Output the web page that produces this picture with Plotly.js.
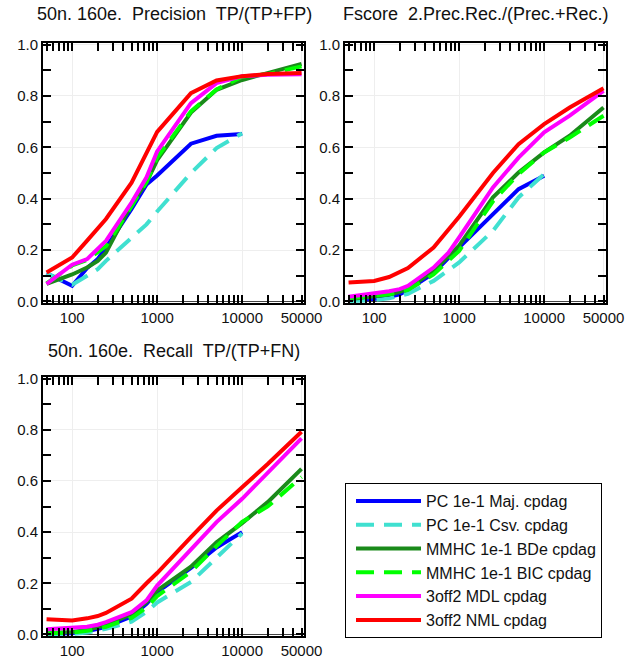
<!DOCTYPE html>
<html>
<head>
<meta charset="utf-8">
<script src="https://cdn.plot.ly/plotly-3.0.1.min.js"></script>
<style>html,body{margin:0;padding:0;background:#fff;}#chart{width:625px;height:660px;}</style>
</head>
<body>
<div id="chart"></div>
<script>
// Sample sizes
const sampleSizes = [50, 100, 150, 200, 250, 500, 750, 1000, 2500, 5000, 10000, 20000, 50000];
const pcSampleSizes = [50, 100, 150, 200, 250, 500, 750, 1000, 2500, 5000, 10000];

// Series names / colours
const seriesNames = ["PC 1e-1 Maj. cpdag", "PC 1e-1 Csv. cpdag", "MMHC 1e-1 BDe cpdag",
                     "MMHC 1e-1 BIC cpdag", "3off2 MDL cpdag", "3off2 NML cpdag"];
const seriesColors = ["#0000ff", "#40e0d0", "#1a8a1a", "#00ff00", "#ff00ff", "#ff0000"];
const seriesDash = ["solid", "18px,10px", "solid", "18px,10px", "solid", "solid"];

// Panel titles
const panelTitles = ["50n. 160e.  Precision  TP/(TP+FP)",
                     "Fscore  2.Prec.Rec./(Prec.+Rec.)",
                     "50n. 160e.  Recall  TP/(TP+FN)"];

// Tick labels
const xTickVals = [100, 1000, 10000, 50000];
const xTickText = ["100", "1000", "10000", "50000"];

// Precision
const precPCMaj   = [0.11, 0.061, 0.13, 0.165, 0.21, 0.36, 0.455, 0.49, 0.614, 0.645, 0.652];
const precPCCsv   = [0.11, 0.065, 0.10, 0.126, 0.158, 0.245, 0.30, 0.35, 0.50, 0.597, 0.655];
const precMMHCBDe = [0.068, 0.105, 0.132, 0.158, 0.19, 0.379, 0.463, 0.55, 0.735, 0.824, 0.862, 0.889, 0.925];
const precMMHCBIC = [0.07, 0.14, 0.162, 0.19, 0.215, 0.37, 0.465, 0.56, 0.74, 0.825, 0.875, 0.885, 0.915];
const precMDL     = [0.068, 0.143, 0.165, 0.205, 0.236, 0.385, 0.483, 0.584, 0.772, 0.85, 0.877, 0.882, 0.884];
const precNML     = [0.113, 0.171, 0.237, 0.284, 0.321, 0.462, 0.58, 0.66, 0.811, 0.86, 0.877, 0.885, 0.889];

// F-score
const fPCMaj   = [0.005, 0.01, 0.018, 0.028, 0.045, 0.11, 0.17, 0.21, 0.34, 0.437, 0.489];
const fPCCsv   = [0.002, 0.005, 0.012, 0.022, 0.03, 0.08, 0.12, 0.152, 0.275, 0.405, 0.496];
const fMMHCBDe = [0.009, 0.018, 0.027, 0.037, 0.05, 0.119, 0.178, 0.217, 0.405, 0.502, 0.58, 0.645, 0.755];
const fMMHCBIC = [0.012, 0.02, 0.028, 0.035, 0.045, 0.105, 0.16, 0.197, 0.39, 0.496, 0.58, 0.638, 0.723];
const fMDL     = [0.018, 0.031, 0.04, 0.048, 0.061, 0.132, 0.19, 0.249, 0.444, 0.56, 0.658, 0.723, 0.82];
const fNML     = [0.074, 0.08, 0.095, 0.113, 0.13, 0.21, 0.28, 0.33, 0.50, 0.612, 0.69, 0.755, 0.83];

// Recall
const recPCMaj   = [0.003, 0.005, 0.012, 0.02, 0.03, 0.07, 0.12, 0.165, 0.26, 0.34, 0.40];
const recPCCsv   = [0.0, 0.002, 0.008, 0.015, 0.022, 0.05, 0.088, 0.125, 0.205, 0.30, 0.395];
const recMMHCBDe = [0.005, 0.01, 0.018, 0.026, 0.036, 0.08, 0.127, 0.172, 0.265, 0.36, 0.435, 0.517, 0.647];
const recMMHCBIC = [0.005, 0.008, 0.014, 0.022, 0.03, 0.065, 0.105, 0.15, 0.245, 0.345, 0.44, 0.50, 0.615];
const recMDL     = [0.02, 0.025, 0.03, 0.038, 0.048, 0.087, 0.133, 0.191, 0.33, 0.439, 0.53, 0.634, 0.766];
const recNML     = [0.059, 0.055, 0.063, 0.072, 0.084, 0.14, 0.20, 0.24, 0.38, 0.484, 0.575, 0.666, 0.792];

const panels = [
  [precPCMaj, precPCCsv, precMMHCBDe, precMMHCBIC, precMDL, precNML],
  [fPCMaj, fPCCsv, fMMHCBDe, fMMHCBIC, fMDL, fNML],
  [recPCMaj, recPCCsv, recMMHCBDe, recMMHCBIC, recMDL, recNML]
];
const axisSuffix = ["", "2", "3"];

const traces = [];
panels.forEach((series, p) => {
  series.forEach((vals, s) => {
    const xs = vals.length === pcSampleSizes.length ? pcSampleSizes : sampleSizes;
    traces.push({
      type: "scatter", mode: "lines", x: xs, y: vals,
      xaxis: "x" + axisSuffix[p], yaxis: "y" + axisSuffix[p],
      name: seriesNames[s], legendgroup: "g" + s, showlegend: p === 0,
      line: {color: seriesColors[s], width: 4, dash: seriesDash[s]}, hoverinfo: "skip"
    });
  });
});

// minor tick positions for the log axis (2..9 in each decade)
const minorX = [];
[10, 100, 1000, 10000].forEach(d => { for (let k = 2; k <= 9; k++) minorX.push(k * d); });

const FONT = "Liberation Sans, Arial, Helvetica, sans-serif";
const W = 625, H = 660;
const px = v => v / W, py = v => 1 - v / H;

function xAxis(domain, anchor) {
  return {
    type: "log", domain: domain, anchor: anchor, range: [1.657, 4.728],
    tickmode: "array", tickvals: xTickVals, ticktext: xTickText,
    ticks: "inside", ticklen: 8, tickwidth: 2, tickcolor: "black",
    minor: {tickvals: minorX, ticks: "inside", ticklen: 8, tickwidth: 1.5, tickcolor: "black"},
    showline: true, linecolor: "black", linewidth: 2, mirror: "allticks",
    tickfont: {family: FONT, size: 15}
  };
}
function yAxis(domain, anchor) {
  return {
    domain: domain, anchor: anchor, range: [-0.006, 1.006],
    dtick: 0.2, tickformat: ".1f",
    ticks: "inside", ticklen: 8, tickwidth: 2, tickcolor: "black",
    minor: {dtick: 0.1, ticks: "inside", ticklen: 8, tickwidth: 2, tickcolor: "black"},
    showline: true, linecolor: "black", linewidth: 2, mirror: "allticks",
    tickfont: {family: FONT, size: 15}
  };
}

const layout = {
  width: W, height: H,
  margin: {l: 0, r: 0, t: 0, b: 0},
  paper_bgcolor: "#fff", plot_bgcolor: "#fff",
  font: {family: FONT, color: "#111"},
  xaxis:  xAxis([px(43), px(304)], "y"),
  yaxis:  yAxis([py(303), py(43)], "x"),
  xaxis2: xAxis([px(345), px(606)], "y2"),
  yaxis2: yAxis([py(303), py(43)], "x2"),
  xaxis3: xAxis([px(43), px(304)], "y3"),
  yaxis3: yAxis([py(636), py(377)], "x3"),
  showlegend: true,
  legend: {
    x: px(345), y: py(483), xanchor: "left", yanchor: "top",
    bordercolor: "#000", borderwidth: 1, bgcolor: "#fff",
    font: {family: FONT, size: 16, color: "#111"},
    itemwidth: 65, tracegroupgap: 0, indentation: 5
  },
  annotations: [
    {text: panelTitles[0], x: px(174), y: py(14)},
    {text: panelTitles[1], x: px(476), y: py(14)},
    {text: panelTitles[2], x: px(174), y: py(351)}
  ].map(a => Object.assign(a, {xref: "paper", yref: "paper", xanchor: "center", yanchor: "middle",
        showarrow: false, font: {family: FONT, size: 18, color: "#111"}}))
};
Plotly.newPlot("chart", traces, layout, {displayModeBar: false});
</script>
</body>
</html>
